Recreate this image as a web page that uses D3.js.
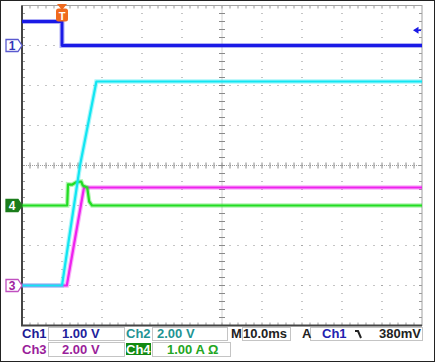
<!DOCTYPE html>
<html>
<head>
  <meta charset="UTF-8">
  <title>Scope capture</title>
  <style>
    body { margin: 0; background: #fff; }
    svg { display: block; font-family: "Liberation Sans", Arial, sans-serif; }
  </style>
</head>
<body>
<svg></svg>
<script src="https://d3js.org/d3.v7.min.js"></script>
<script>

let width = 435,
    height = 363;

// time axis: 10 ms/div, trigger one division from the left
const timeDomain = [-10, 90];

// ch1 (1.00 V/div)
const ch1Time = [-10, 0, 0, 90];
const ch1Volt = [0.6, 0.6, 0.0, 0.0];

// ch2 (2.00 V/div)
const ch2Time = [-10, 0, 4.5, 8.6, 90];
const ch2Volt = [0, 0, 6.0, 10.2, 10.2];

// ch3 (2.00 V/div)
const ch3Time = [-10, 1.2, 5.5, 90];
const ch3Volt = [0, 0, 4.9, 4.9];

// ch4 (1.00 A/div)
const ch4Time = [-10, 1.3, 1.5, 2.5, 3.5, 4.8, 5.2, 6.3, 6.8, 7.5, 90];
const ch4Amp  = [0, 0, 0.53, 0.52, 0.58, 0.6, 0.5, 0.45, 0.1, 0, 0];

// channel offsets in divisions from screen centre, and scale per div
const channels = [
  { name: "ch3", t: ch3Time, v: ch3Volt, perDiv: 2, offset: -3, color: "#ee22ee" },
  { name: "ch4", t: ch4Time, v: ch4Amp,  perDiv: 1, offset: -1, color: "#22dd22" },
  { name: "ch2", t: ch2Time, v: ch2Volt, perDiv: 2, offset: -3, color: "#11e6f2" },
  { name: "ch1", t: ch1Time, v: ch1Volt, perDiv: 1, offset: 3,  color: "#1a1ae6" }
];

const triggerLevel = 0.38; // V on ch1

const row1Labels = ["Ch1", "1.00 V", "Ch2", "2.00 V", "M", "10.0ms", "A", "Ch1", "380mV"];
const row2Labels = ["Ch3", "2.00 V", "Ch4", "1.00 A \u03A9"];

let svg = d3.select("svg")
    .attr("width", width)
    .attr("height", height);

// outer frame
svg.append("rect")
    .attr("x", 0.5).attr("y", 0.5)
    .attr("width", width - 1).attr("height", height - 2)
    .attr("fill", "#fff")
    .attr("stroke", "#222");

let x = d3.scaleLinear().domain(timeDomain).range([22, 422]);
let y = d3.scaleLinear().domain([-4, 4]).range([325.5, 5.5]);

// grid dots
let grid = svg.append("g").attr("id", "grid");
for (let i = 1; i < 10; i++) {
  if (i == 5) continue;
  for (let k = 1; k < 40; k++) {
    grid.append("rect")
      .attr("x", x(timeDomain[0] + i * 10) - 0.5)
      .attr("y", y(-4) - k * 8 - 0.5)
      .attr("width", 1).attr("height", 1)
      .attr("fill", "#8a8a8a");
  }
}
for (let j = -3; j <= 3; j++) {
  if (j == 0) continue;
  for (let k = 1; k < 50; k++) {
    grid.append("rect")
      .attr("x", x(timeDomain[0]) + k * 8 - 0.5)
      .attr("y", y(j) - 0.5)
      .attr("width", 1).attr("height", 1)
      .attr("fill", "#8a8a8a");
  }
}

// centre cross: dotted line with minor ticks
let cx = x(40), cy = y(0);
grid.append("line").attr("x1", x(-10)).attr("x2", x(90)).attr("y1", cy).attr("y2", cy)
    .attr("stroke", "#a0a0a0").attr("stroke-width", 1).attr("stroke-dasharray", "1,1");
grid.append("line").attr("x1", cx).attr("x2", cx).attr("y1", y(4)).attr("y2", y(-4))
    .attr("stroke", "#a0a0a0").attr("stroke-width", 1).attr("stroke-dasharray", "1,1");
for (let k = 1; k < 50; k++) {
  let px = x(-10) + k * 8;
  grid.append("line").attr("x1", px).attr("x2", px).attr("y1", cy - 3).attr("y2", cy + 3)
      .attr("stroke", "#8a8a8a");
  grid.append("line").attr("x1", px).attr("x2", px).attr("y1", y(4)).attr("y2", y(4) + 3)
      .attr("stroke", "#9a9a9a");
  grid.append("line").attr("x1", px).attr("x2", px).attr("y1", y(-4)).attr("y2", y(-4) - 3)
      .attr("stroke", "#9a9a9a");
}
for (let k = 1; k < 40; k++) {
  let py = y(-4) - k * 8;
  grid.append("line").attr("x1", cx - 3).attr("x2", cx + 3).attr("y1", py).attr("y2", py)
      .attr("stroke", "#8a8a8a");
  grid.append("line").attr("x1", x(-10)).attr("x2", x(-10) + 3).attr("y1", py).attr("y2", py)
      .attr("stroke", "#9a9a9a");
  grid.append("line").attr("x1", x(90)).attr("x2", x(90) - 3).attr("y1", py).attr("y2", py)
      .attr("stroke", "#9a9a9a");
}

// plot frame
svg.append("rect")
    .attr("x", x(-10)).attr("y", y(4))
    .attr("width", x(90) - x(-10)).attr("height", y(-4) - y(4))
    .attr("fill", "none").attr("stroke", "#a0a0a0");
svg.append("path")
    .attr("d", "M" + x(-10) + "," + y(4) + "V" + y(-4) + "H" + x(90))
    .attr("fill", "none").attr("stroke", "#444").attr("stroke-width", 2);

// traces
let traces = svg.append("g").attr("id", "traces");
channels.forEach(ch => {
  let pts = ch.t.map((t, i) => [x(t), y(ch.v[i] / ch.perDiv + ch.offset)]);
  let line = d3.line();
  traces.append("path")
    .attr("d", line(pts))
    .attr("fill", "none")
    .attr("stroke", ch.color)
    .attr("stroke-opacity", 0.35)
    .attr("stroke-width", ch.name == "ch1" ? 5 : 4.5);
  traces.append("path")
    .attr("d", line(pts))
    .attr("fill", "none")
    .attr("stroke", ch.color)
    .attr("stroke-width", ch.name == "ch1" ? 2.8 : 2.2)
    .attr("stroke-linejoin", "round");
});

// channel ground markers
function marker(yy, label, stroke, fill, textColor) {
  let g = svg.append("g");
  g.append("path")
    .attr("d", "M6," + (yy - 6) + "H18L22," + yy + "L18," + (yy + 6) + "H6Z")
    .attr("fill", fill).attr("stroke", stroke).attr("stroke-width", 1.3);
  g.append("text")
    .attr("x", 12).attr("y", yy + 4.5)
    .attr("text-anchor", "middle")
    .attr("font-size", 12).attr("font-weight", "bold")
    .attr("fill", textColor)
    .text(label);
}
marker(y(3), "1", "#5a5ad0", "#fff", "#3434b8");
marker(y(-1), "4", "#1b7d1b", "#1b7d1b", "#fff");
marker(y(-3), "3", "#c050c0", "#fff", "#a020a0");

// trigger position marker
let tx = x(0);
svg.append("path")
    .attr("d", "M" + (tx - 5) + ",4H" + (tx + 5) + "L" + tx + ",10Z")
    .attr("fill", "#f06a1e");
svg.append("rect")
    .attr("x", tx - 6).attr("y", 8.5).attr("width", 12).attr("height", 13).attr("rx", 2.5)
    .attr("fill", "#f06a1e");
svg.append("text")
    .attr("x", tx).attr("y", 19.5)
    .attr("text-anchor", "middle")
    .attr("font-size", 11).attr("font-weight", "bold").attr("fill", "#fff")
    .text("T");

// trigger level arrow
let ty = y(triggerLevel / 1 + 3);
svg.append("path")
    .attr("d", "M413," + ty + "L418.5," + (ty - 3.5) + "V" + (ty + 3.5) + "Z")
    .attr("fill", "#1a1ae6");
svg.append("line")
    .attr("x1", 418).attr("x2", 421).attr("y1", ty).attr("y2", ty)
    .attr("stroke", "#1a1ae6").attr("stroke-width", 1.5);

// readout boxes
let boxes = [
  [48, 327, 76, 13], [152, 327, 75, 13], [242, 327, 48, 13], [310, 327, 112, 13],
  [48, 342, 76, 14], [152, 342, 78, 14]
];
svg.selectAll("rect.box")
  .data(boxes)
  .enter().append("rect")
  .attr("class", "box")
  .attr("x", d => d[0] + 0.5).attr("y", d => d[1] + 0.5)
  .attr("width", d => d[2]).attr("height", d => d[3])
  .attr("fill", "none").attr("stroke", "#c4c4c4");

// Ch4 label background
svg.append("rect")
  .attr("x", 126).attr("y", 343).attr("width", 25).attr("height", 12)
  .attr("fill", "#128a12");

let row1 = [
  { x: 22,  color: "#1c1c94" },
  { x: 62,  color: "#22229c" },
  { x: 126, color: "#1f9494" },
  { x: 157, color: "#1f9494" },
  { x: 231, color: "#222" },
  { x: 243, color: "#222" },
  { x: 302, color: "#222" },
  { x: 322, color: "#2222b0" },
  { x: 379, color: "#222" }
];
let row2 = [
  { x: 22,  color: "#9a1e9a" },
  { x: 62,  color: "#9a1e9a" },
  { x: 126, color: "#fff" },
  { x: 167, color: "#22a622" }
];

svg.selectAll("text.r1")
  .data(row1Labels)
  .enter().append("text")
  .attr("class", "r1")
  .attr("x", (d, i) => row1[i].x)
  .attr("y", 338)
  .attr("font-size", 13).attr("font-weight", "bold")
  .attr("fill", (d, i) => row1[i].color)
  .text(d => d);

svg.selectAll("text.r2")
  .data(row2Labels)
  .enter().append("text")
  .attr("class", "r2")
  .attr("x", (d, i) => row2[i].x)
  .attr("y", 354)
  .attr("font-size", 13).attr("font-weight", "bold")
  .attr("fill", (d, i) => row2[i].color)
  .text(d => d);

// falling edge symbol
svg.append("path")
  .attr("d", "M355,331H358L361,338")
  .attr("fill", "none").attr("stroke", "#222").attr("stroke-width", 2);

</script>
</body>
</html>
